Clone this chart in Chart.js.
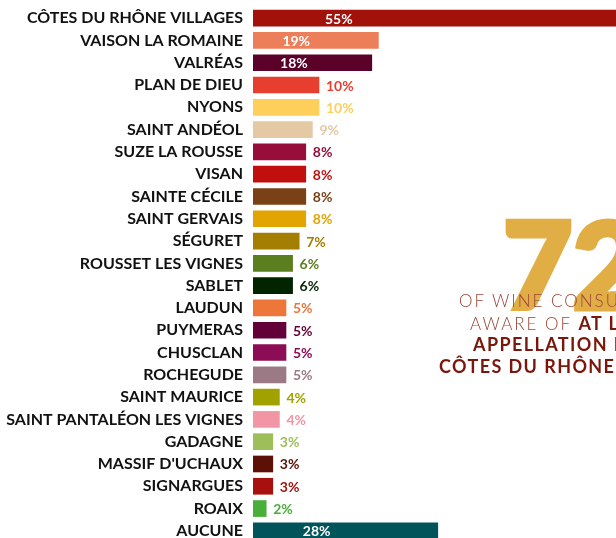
<!DOCTYPE html>
<html>
<head>
<meta charset="utf-8">
<script src="https://cdn.jsdelivr.net/npm/chart.js@4"></script>
<style>
    body {
        margin: 0;
        width: 616px;
        height: 538px;
        overflow: hidden;
        background: #ffffff;
        position: relative;
    }
    #chart-box {
        position: absolute;
        left: 0;
        top: 0;
        width: 616px;
        height: 544px;
    }
    .big-number {
        position: absolute;
        left: 503px;
        top: 203px;
        font-family: 'Lato', sans-serif;
        font-weight: 900;
        font-size: 120px;
        line-height: 1;
        color: #e1ae45;
        -webkit-text-stroke: 5px #e1ae45;
        white-space: nowrap;
    }
    .side-line {
        position: absolute;
        font-family: 'Lato', sans-serif;
        font-size: 18px;
        line-height: 1;
        letter-spacing: 1.4px;
        white-space: nowrap;
        color: #7a170c;
        font-weight: 700;
    }
    .side-line .light {
        font-weight: 300;
        font-size: 17px;
        letter-spacing: 2px;
        color: #9c4436;
    }
</style>
</head>
<body>
<div id="chart-box"><canvas id="bar-grid"></canvas></div>

<!-- Headline on the right, cut off by the window edge like the reference -->
<div class="big-number">72%</div>
<div class="side-line" style="left:459px; top:291px;"><span class="light">OF WINE CONSUMERS</span></div>
<div class="side-line" style="left:470px; top:314px;"><span class="light">AWARE OF </span>AT LEAST</div>
<div class="side-line" style="left:473px; top:335px;">APPELLATION FROM</div>
<div class="side-line" style="left:439px; top:357px;">CÔTES DU RHÔNE VILLAGES</div>

<script>
// Appellations (top to bottom)
let appellations = [
    'CÔTES DU RHÔNE VILLAGES', 'VAISON LA ROMAINE', 'VALRÉAS', 'PLAN DE DIEU',
    'NYONS', 'SAINT ANDÉOL', 'SUZE LA ROUSSE', 'VISAN', 'SAINTE CÉCILE',
    'SAINT GERVAIS', 'SÉGURET', 'ROUSSET LES VIGNES', 'SABLET', 'LAUDUN',
    'PUYMERAS', 'CHUSCLAN', 'ROCHEGUDE', 'SAINT MAURICE',
    'SAINT PANTALÉON LES VIGNES', 'GADAGNE', "MASSIF D'UCHAUX", 'SIGNARGUES',
    'ROAIX', 'AUCUNE'
];

// Share of wine consumers aware of each one (%)
let awareness = [55, 19, 18, 10, 10, 9, 8, 8, 8, 8, 7, 6, 6, 5, 5, 5, 5, 4, 4, 3, 3, 3, 2, 28];

// One colour for each bar
let barColors = [
    '#a2110a', '#ec7e5a', '#5a0029', '#e63f2f', '#fecf5b', '#e5c9a4',
    '#970e3a', '#c10f10', '#7a4116', '#e2a400', '#a37e00', '#5b7e1e',
    '#022400', '#ef763a', '#630039', '#8c0c55', '#9b7a85', '#a1a200',
    '#f296a6', '#9ebe5a', '#5c1006', '#a8100e', '#4aae3a', '#01555a'
];

// Bars at or above this value get their label inside, in white
let insideLimit = 15;

// Draws the "xx%" labels next to (or inside) every bar
let valueLabels = {
    id: 'valueLabels',
    afterDatasetsDraw(chart) {
        let ctx = chart.ctx;
        let xScale = chart.scales.x;
        let meta = chart.getDatasetMeta(0);
        ctx.save();
        ctx.font = '700 14px Lato';
        ctx.textBaseline = 'middle';
        meta.data.forEach((bar, i) => {
            let value = awareness[i];
            let text = value + '%';
            if (value >= insideLimit) {
                // big bars: white label near the start of the bar
                ctx.fillStyle = '#ffffff';
                ctx.textAlign = 'center';
                ctx.fillText(text, xScale.getPixelForValue(Math.min(13, value / 2.9)), bar.y + 1);
            } else {
                // small bars: label right after the bar, same colour
                ctx.fillStyle = barColors[i];
                ctx.textAlign = 'left';
                ctx.fillText(text, bar.x + 7, bar.y + 1);
            }
        });
        ctx.restore();
    }
};

let ctx = document.getElementById('bar-grid');

let barChart = new Chart(ctx, {
    type: 'bar',
    data: {
        labels: appellations,
        datasets: [{
            label: 'Awareness',
            data: awareness,
            backgroundColor: barColors,
            barThickness: 16,
            borderWidth: 0
        }]
    },
    options: {
        indexAxis: 'y',
        responsive: true,
        maintainAspectRatio: false,
        animation: false,
        layout: {
            padding: { top: 7, bottom: 2, left: 0, right: 0 }
        },
        plugins: {
            legend: { display: false },
            tooltip: { enabled: false }
        },
        scales: {
            x: {
                display: false,
                min: 0,
                max: 55
            },
            y: {
                grid: { display: false, drawTicks: false },
                border: { display: false },
                ticks: {
                    color: '#111111',
                    padding: 10,
                    font: { family: 'Lato', weight: '700', size: 16 }
                },
                // keep the bars starting at the same place as the reference
                // and let the rows use the whole height
                afterFit(scale) {
                    scale.width = 253;
                    scale.paddingTop = 0;
                    scale.paddingBottom = 0;
                }
            }
        }
    },
    plugins: [valueLabels]
});
</script>
</body>
</html>
